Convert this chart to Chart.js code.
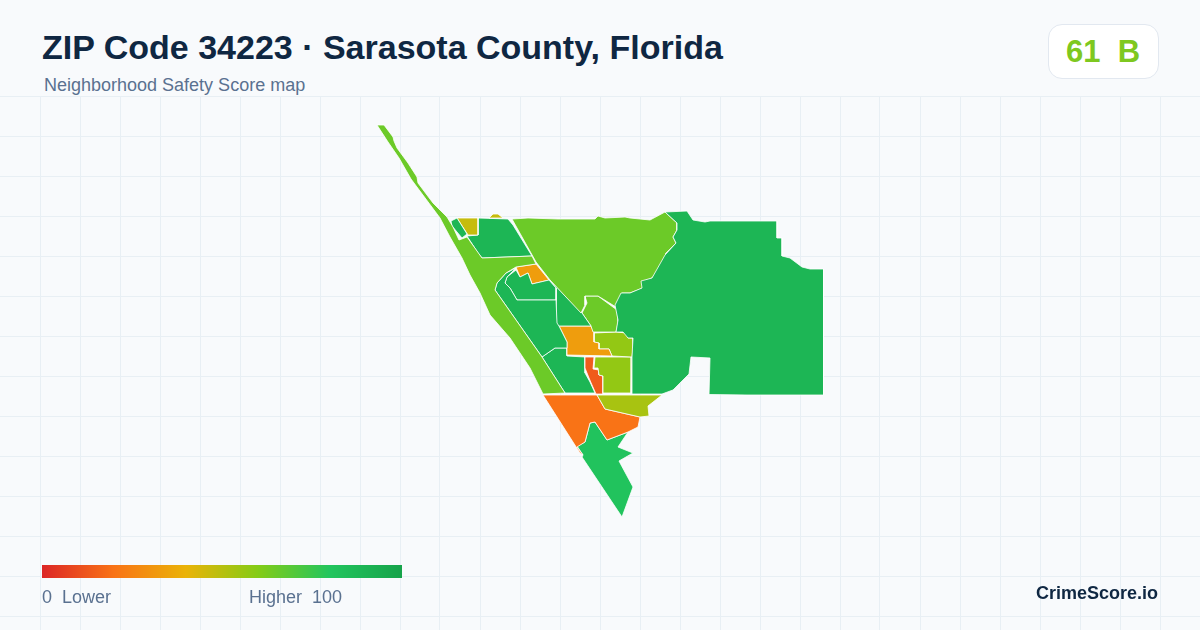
<!DOCTYPE html>
<html>
<head>
<meta charset="utf-8">
<title>ZIP Code 34223</title>
<script src="https://cdn.jsdelivr.net/npm/chart.js@4"></script>
<style>
    html, body { margin: 0; padding: 0; }
    body { width: 1200px; height: 630px; position: relative; overflow: hidden; background: #f8fafc; font-family: "Liberation Sans", Arial, sans-serif; }
    #map { position: absolute; left: 0; top: 96px; }
    .txt { position: absolute; white-space: pre; line-height: 1; }
    #title { left: 42px; top: 30px; font-size: 34px; font-weight: bold; color: #0f2742; }
    #sub { left: 44px; top: 76px; font-size: 18px; color: #5a7190; }
    #badge { position: absolute; left: 1048px; top: 24px; width: 109px; height: 53px; background: #fff; border: 1px solid #e2e8f0; border-radius: 14px; }
    #score { left: 1066px; top: 36px; font-size: 31px; font-weight: bold; color: #7ec820; }
    #ramp { position: absolute; left: 42px; top: 565px; width: 360px; height: 13px; }
    #low { left: 42px; top: 588px; font-size: 18px; color: #5a7190; }
    #high { left: 249px; top: 588px; font-size: 18px; color: #5a7190; }
    #brand { right: 42px; top: 584px; font-size: 18px; font-weight: bold; color: #0f2742; }
</style>
</head>
<body>
<div id="title" class="txt">ZIP Code 34223 · Sarasota County, Florida</div>
<div id="sub" class="txt">Neighborhood Safety Score map</div>
<div id="badge"></div>
<div id="score" class="txt">61  B</div>
<canvas id="map" width="1200" height="534"></canvas>
<div id="ramp"></div>
<div id="low" class="txt">0  Lower</div>
<div id="high" class="txt">Higher  100</div>
<div id="brand" class="txt">CrimeScore.io</div>
<script>
// score ramp of the legend
const rampStops = [0, 20, 40, 60, 80, 100];
const rampColors = ['#dc2626', '#f97316', '#eab308', '#84cc16', '#22c55e', '#16a34a'];

// grid lines of the map panel
const gridX = [40, 80, 120, 160, 200, 240, 280, 320, 360, 400, 440, 480, 520, 560, 600, 640, 680, 720, 760, 800, 840, 880, 920, 960, 1000, 1040, 1080, 1120, 1160];
const gridY = [96, 136, 176, 216, 256, 296, 336, 376, 416, 456, 496, 536, 576, 616];

// neighborhood outlines
const east = [[665,212],[687,211],[693,220],[705,222],[710,221],[777,221],[777,238],[782,238],[782,256],[790,258],[802,267],[810,269],[823.5,269],[823.5,395],[767,395],[747,395],[709,394.5],[710,358],[691,357],[689,374],[673,390],[662,394],[632,394],[632,357],[633,338],[628,338],[623,332],[616,332],[618,320],[615,305],[621,293],[630,293],[642,288],[641,281],[652,278],[665,255],[676,243],[673,237],[677,230],[677,223]];
const northLime = [[512,219],[528,218],[558,219],[595,219],[598,216],[605,218],[625,217],[630,218],[650,220],[665,212],[677,223],[677,230],[673,237],[676,243],[666,253],[666,260],[652,278],[642,282],[643,288],[630,293],[622,293],[620,300],[616,307],[598,296],[585,296],[585,305],[581,313],[550,280],[536,262]];
const coast = [[377,125],[384,125],[393,137],[394,141],[397,148],[408,163],[417,177],[418,183],[433,203],[447,217],[453,227],[459,240],[467,237],[482,258],[532,256],[536,264],[516,267],[506,273],[497,283],[495,290],[542,357],[565,393],[543,394],[530,368],[510,338],[490,315],[480,293],[470,275],[462,258],[450,237],[440,218],[411,179],[399,158],[388,142]];
const sliver = [[451,221],[457,218],[467,234],[462,238],[452,226]];
const goldWest = [[457,218],[478,218],[478,235],[468,235]];
const goldBump = [[489,218],[493,214],[498,214],[503,218]];
const northWest = [[478,218],[508,219],[513,225],[532,256],[482,258],[478,253],[467,236],[478,235]];
const orangeNorth = [[516,267],[536,264],[549,280],[532,284],[528,273],[520,277]];
const innerRing = [[516,270],[520,277],[528,273],[532,284],[549,280],[556,288],[556,300],[517,300],[510,288],[505,283],[507,277]];
const outerRing = [[516,268],[506,273],[497,283],[495,290],[542,357],[555,348],[567,348],[567,342],[559,326],[557,323],[556,300],[517,300],[510,288],[505,283],[507,277]];
const narrow = [[556,288],[556,323],[559,326],[591,326],[582,313],[550,280]];
const smallLime = [[585,296],[598,296],[617,310],[618,323],[616,332],[593,332],[591,326],[582,313],[587,303]];
const orangeMid = [[559,326],[591,326],[594,333],[594,342],[599,343],[599,349],[609,349],[612,356],[567,355],[567,342]];
const upperYellow = [[594,333],[616,332],[627,333],[628,338],[633,338],[633,348],[632,357],[612,356],[609,349],[599,349],[599,343],[594,342]];
const lowerYellow = [[595,357],[632,357],[631,393],[603,393],[603,376],[599,375],[598,368],[594,368]];
const redStrip = [[585,357],[594,357],[593,369],[599,370],[599,375],[603,376],[603,394],[596,394],[592,385],[589,378],[585,368]];
const lowerGreen = [[542,357],[555,348],[567,348],[567,356],[585,357],[585,373],[590,382],[595,393],[565,393]];
const southOrange = [[543,395],[597,395],[605,409],[640,417],[638,427],[628,432],[607,440],[595,422],[590,423],[585,442],[577,447],[583,455],[580,453]];
const southGreen = [[577,446],[585,442],[590,423],[595,422],[607,440],[628,432],[618,447],[633,453],[619,461],[633,487],[622,517],[582,457],[583,455]];
const olive = [[597,395],[662,395],[648,406],[649,416],[640,417],[605,409]];

const tractShapes = [east, northLime, coast, sliver, goldWest, goldBump, northWest, outerRing, innerRing, orangeNorth, narrow, smallLime, orangeMid, upperYellow, lowerYellow, redStrip, lowerGreen, olive, southOrange, southGreen];
const tractScores = [89, 65, 65, 89, 47, 47, 89, 89, 89, 33, 89, 65, 33, 57, 57, 14, 89, 53, 20, 81];

function hexToRgb(hex) {
    return [1, 3, 5].map(function (i) { return parseInt(hex.substr(i, 2), 16); });
}

// same ramp as the legend bar
function scoreColor(score) {
    let i = 0;
    while (i < rampStops.length - 2 && score > rampStops[i + 1]) i++;
    const t = (score - rampStops[i]) / (rampStops[i + 1] - rampStops[i]);
    const a = hexToRgb(rampColors[i]);
    const b = hexToRgb(rampColors[i + 1]);
    const c = a.map(function (v, k) { return Math.round(v + (b[k] - v) * t); });
    return 'rgb(' + c.join(',') + ')';
}

document.getElementById('ramp').style.background = 'linear-gradient(to right, ' +
    rampColors.map(function (c, i) { return c + ' ' + rampStops[i] + '%'; }).join(', ') + ')';

const datasets = tractShapes.map(function (shape, i) {
    const pts = shape.concat([shape[0]]).map(function (p) { return { x: p[0], y: p[1] }; });
    return {
        data: pts,
        showLine: true,
        fill: 'shape',
        tension: 0,
        pointRadius: 0,
        borderColor: '#ffffff',
        borderWidth: 0.8,
        backgroundColor: scoreColor(tractScores[i]),
    };
});

new Chart(document.getElementById('map').getContext('2d'), {
    type: 'scatter',
    data: { datasets: datasets },
    options: {
        responsive: false,
        animation: false,
        layout: { padding: 0 },
        plugins: { legend: { display: false }, tooltip: { enabled: false } },
        scales: {
            x: {
                type: 'linear', min: 0, max: 1200,
                afterBuildTicks: function (s) { s.ticks = gridX.map(function (v) { return { value: v }; }); },
                ticks: { display: false },
                border: { display: false },
                grid: { color: '#e8eff4', lineWidth: 1, drawTicks: false },
            },
            y: {
                type: 'linear', min: 96, max: 630, reverse: true,
                afterBuildTicks: function (s) { s.ticks = gridY.map(function (v) { return { value: v }; }); },
                ticks: { display: false },
                border: { display: false },
                grid: { color: '#e8eff4', lineWidth: 1, drawTicks: false },
            },
        },
    },
});
</script>
</body>
</html>
